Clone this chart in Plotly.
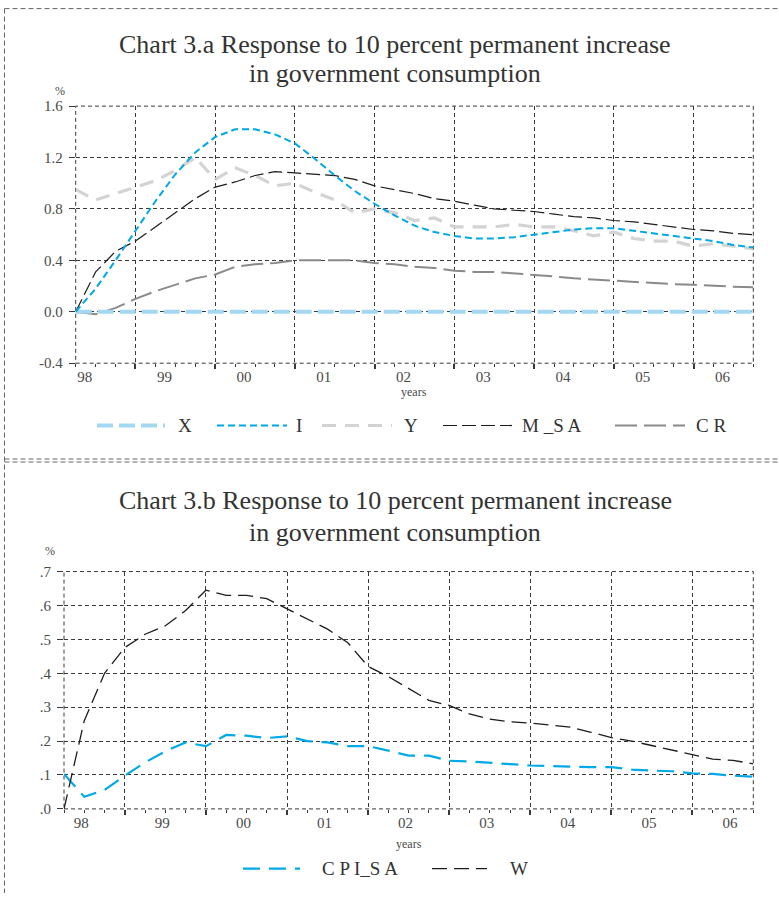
import plotly.graph_objects as go

# ---- data: quarterly responses, 1998Q1 .. 2006Q3 ----
years = ["98", "99", "00", "01", "02", "03", "04", "05", "06"]
quarters = list(range(35))

x_resp = [0.0] * 35
i_resp = [0.00, 0.18, 0.40, 0.63, 0.86, 1.07, 1.24, 1.36, 1.42, 1.42,
          1.38, 1.31, 1.19, 1.06, 0.94, 0.84, 0.75, 0.67, 0.62, 0.59,
          0.57, 0.57, 0.58, 0.60, 0.62, 0.64, 0.65, 0.65, 0.63, 0.61,
          0.59, 0.57, 0.55, 0.52, 0.50]
y_resp = [0.95, 0.87, 0.92, 0.97, 1.02, 1.10, 1.20, 1.03, 1.12, 1.06,
          0.98, 1.00, 0.93, 0.87, 0.77, 0.80, 0.77, 0.71, 0.73, 0.66,
          0.66, 0.66, 0.68, 0.66, 0.66, 0.63, 0.59, 0.62, 0.57, 0.55,
          0.55, 0.51, 0.53, 0.51, 0.49]
msa_resp = [0.00, 0.31, 0.47, 0.55, 0.66, 0.77, 0.88, 0.97, 1.01, 1.06,
            1.09, 1.08, 1.07, 1.06, 1.03, 0.98, 0.95, 0.92, 0.88, 0.86,
            0.83, 0.80, 0.79, 0.78, 0.76, 0.74, 0.73, 0.71, 0.70, 0.68,
            0.66, 0.64, 0.63, 0.61, 0.60]
cr_resp = [0.00, -0.02, 0.03, 0.10, 0.16, 0.21, 0.26, 0.29, 0.35, 0.37,
           0.38, 0.40, 0.40, 0.40, 0.40, 0.38, 0.37, 0.35, 0.34, 0.32,
           0.31, 0.31, 0.30, 0.29, 0.275, 0.26, 0.25, 0.24, 0.235, 0.225,
           0.215, 0.21, 0.20, 0.195, 0.19]

cpi_resp = [0.103, 0.036, 0.056, 0.098, 0.137, 0.170, 0.196, 0.185, 0.218, 0.216,
            0.209, 0.214, 0.200, 0.196, 0.185, 0.185, 0.172, 0.157, 0.157, 0.142,
            0.140, 0.137, 0.132, 0.128, 0.126, 0.123, 0.123, 0.123, 0.116, 0.113,
            0.111, 0.105, 0.103, 0.098, 0.095]
w_resp = [0.000, 0.260, 0.400, 0.476, 0.515, 0.540, 0.585, 0.645, 0.630, 0.630,
          0.620, 0.590, 0.560, 0.530, 0.490, 0.420, 0.390, 0.355, 0.320, 0.305,
          0.280, 0.265, 0.257, 0.253, 0.248, 0.241, 0.226, 0.210, 0.200, 0.187,
          0.172, 0.160, 0.147, 0.143, 0.133]

top_yticks = [-0.4, 0.0, 0.4, 0.8, 1.2, 1.6]
top_ylabels = ["-0.4", "0.0", "0.4", "0.8", "1.2", "1.6"]
bot_yticks = [0.0, 0.1, 0.2, 0.3, 0.4, 0.5, 0.6, 0.7]
bot_ylabels = [".0", ".1", ".2", ".3", ".4", ".5", ".6", ".7"]

# ---- styling ----
W_PX, H_PX = 779, 901
# the page shows the figure a little lower and vertically tighter than its
# nominal size; layout positions below are given in page pixels
Y_SHIFT, Y_SCALE = 7.6, 0.982
FONT = "Liberation Serif"
GRID = "#3a3a3a"
GRID_DASH = "4px,3px"
TXT = "#4a4a4a"

styles = {
    "X": dict(color="#A3D8F1", width=4, dash="16px,6px"),
    "I": dict(color="#00A8E6", width=2, dash="7px,4px"),
    "Y": dict(color="#D3D3D3", width=3.2, dash="14px,9px"),
    "M_SA": dict(color="#1c1c1c", width=1.2, dash="14px,5px"),
    "CR": dict(color="#8a8a8a", width=2, dash="22px,7px"),
    "CPI_SA": dict(color="#00A9E8", width=2.2, dash="17px,9px"),
    "W": dict(color="#1c1c1c", width=1.3, dash="15px,7px"),
}


def px(xp):
    return xp / W_PX


def py(yp):
    fig_y = (yp - Y_SHIFT) / Y_SCALE
    return min(1.0, max(0.0, 1 - fig_y / H_PX))


top_dom_x = [px(75.7), px(753.3)]
top_dom_y = [py(362.7), py(105.7)]
bot_dom_x = [px(64.0), px(753.3)]
bot_dom_y = [py(808.3), py(571.0)]

fig = go.Figure()

top_series = {"X": x_resp, "I": i_resp, "Y": y_resp, "M_SA": msa_resp, "CR": cr_resp}
for name in ["CR", "Y", "X", "M_SA", "I"]:
    fig.add_trace(go.Scatter(x=quarters, y=top_series[name], mode="lines", name=name,
                             line=styles[name], xaxis="x", yaxis="y",
                             showlegend=False))

bot_series = [("CPI_SA", cpi_resp), ("W", w_resp)]
for name, vals in bot_series:
    fig.add_trace(go.Scatter(x=quarters, y=vals, mode="lines", name=name,
                             line=styles[name], xaxis="x3", yaxis="y3",
                             showlegend=False))

tickfont = dict(family=FONT, size=15, color=TXT)


def label_axis(domain, anchor, offset):
    return dict(domain=domain, anchor=anchor, range=[0, 34],
                tickvals=[4 * k + offset for k in range(len(years))],
                ticktext=years, ticks="", showgrid=False, zeroline=False,
                tickfont=tickfont, showline=False, ticklabelstandoff=3,
                minor=dict(ticks="outside", dtick=1, tick0=0, ticklen=3,
                           tickcolor=GRID, tickwidth=1, showgrid=False))


def grid_axis(overlay, anchor):
    return dict(overlaying=overlay, anchor=anchor, range=[0, 34],
                tickvals=[3 + 4 * k for k in range(8)], showticklabels=False,
                ticks="outside", ticklen=5, tickwidth=1.5, tickcolor=GRID,
                showgrid=True, gridcolor=GRID, griddash=GRID_DASH, gridwidth=1,
                zeroline=False, showline=False)


def value_axis(domain, anchor, rng, vals, labels):
    return dict(domain=domain, anchor=anchor, range=rng, tickvals=vals,
                ticktext=labels, ticks="outside", ticklen=6, tickcolor=GRID,
                tickwidth=1, showgrid=True, gridcolor=GRID, griddash=GRID_DASH,
                gridwidth=1, zeroline=False, showline=False, tickfont=tickfont,
                ticklabelstandoff=3)


fig.update_layout(
    width=W_PX, height=H_PX,
    margin=dict(l=0, r=0, t=0, b=0),
    paper_bgcolor="white", plot_bgcolor="white",
    xaxis=label_axis(top_dom_x, "y", 0.45),
    xaxis2=grid_axis("x", "y"),
    yaxis=value_axis(top_dom_y, "x", [-0.4, 1.6], top_yticks, top_ylabels),
    xaxis3=label_axis(bot_dom_x, "y3", 0.85),
    xaxis4=grid_axis("x3", "y3"),
    yaxis3=value_axis(bot_dom_y, "x3", [0.0, 0.7], bot_yticks, bot_ylabels),
    showlegend=False,
)

# empty traces so the grid-only axes render
fig.add_trace(go.Scatter(x=[], y=[], xaxis="x2", yaxis="y", showlegend=False))
fig.add_trace(go.Scatter(x=[], y=[], xaxis="x4", yaxis="y3", showlegend=False))

shapes = []
border = dict(color="#666666", width=1, dash="5px,3px")
# dashed frames around each plotting area
for xr, yr in [("x domain", "y domain"), ("x3 domain", "y3 domain")]:
    shapes.append(dict(type="rect", xref=xr, yref=yr, x0=0, x1=1, y0=0, y1=1,
                       line=dict(color=GRID, width=1, dash=GRID_DASH), layer="below"))
# page borders and separator
top_edge = 1 - 0.6 / H_PX
shapes.append(dict(type="line", xref="paper", yref="paper", x0=px(4.5), x1=px(4.5),
                   y0=top_edge, y1=0, line=border))
shapes.append(dict(type="line", xref="paper", yref="paper", x0=px(4.5), x1=1,
                   y0=top_edge, y1=top_edge, line=border))
for yy in (458.5, 461.5):
    shapes.append(dict(type="line", xref="paper", yref="paper", x0=px(4.5), x1=1,
                       y0=py(yy), y1=py(yy), line=border))

annotations = []
title_font = dict(family=FONT, size=26, color="#333333")
for line1, y1, y2 in [("Chart 3.a Response to 10 percent permanent increase", 44, 73),
                      ("Chart 3.b Response to 10 percent permanent increase", 500, 532)]:
    annotations.append(dict(text=line1, xref="paper", yref="paper", x=px(395), y=py(y1),
                            showarrow=False, font=title_font, xanchor="center", yanchor="middle"))
    annotations.append(dict(text="in government consumption", xref="paper", yref="paper",
                            x=px(395), y=py(y2), showarrow=False, font=title_font,
                            xanchor="center", yanchor="middle"))

small = dict(family=FONT, size=12, color=TXT)
annotations.append(dict(text="%", xref="paper", yref="paper", x=px(53), y=py(91),
                        showarrow=False, font=small, yanchor="middle"))
annotations.append(dict(text="%", xref="paper", yref="paper", x=px(43), y=py(550),
                        showarrow=False, font=small, yanchor="middle"))
annotations.append(dict(text="years", xref="x domain", yref="paper", x=0.5, y=py(392),
                        showarrow=False, font=small, yanchor="middle"))
annotations.append(dict(text="years", xref="x3 domain", yref="paper", x=0.5, y=py(843),
                        showarrow=False, font=small, yanchor="middle"))

# legend rows: key line span and label text
legend_font = dict(family=FONT, size=19, color="#333333")
top_legend = [("X", 97, 165, 176, "X"), ("I", 217, 287, 294, "I"),
              ("Y", 322, 392, 402, "Y"), ("M_SA", 443, 512, 520, "M _S A"),
              ("CR", 615, 685, 694, "C R")]
bot_legend = [("CPI_SA", 243, 300, 320, "C P I_S A"), ("W", 432, 487, 508, "W")]
for rows, ly in [(top_legend, 425), (bot_legend, 868)]:
    for key, x0, x1, tx, label in rows:
        shapes.append(dict(type="line", xref="paper", yref="paper", x0=px(x0), x1=px(x1),
                           y0=py(ly), y1=py(ly), line=styles[key]))
        annotations.append(dict(text=label, xref="paper", yref="paper", x=px(tx), y=py(ly),
                                showarrow=False, font=legend_font, xanchor="left",
                                yanchor="middle"))

fig.update_layout(shapes=shapes, annotations=annotations)

fig.write_html("out.html")
